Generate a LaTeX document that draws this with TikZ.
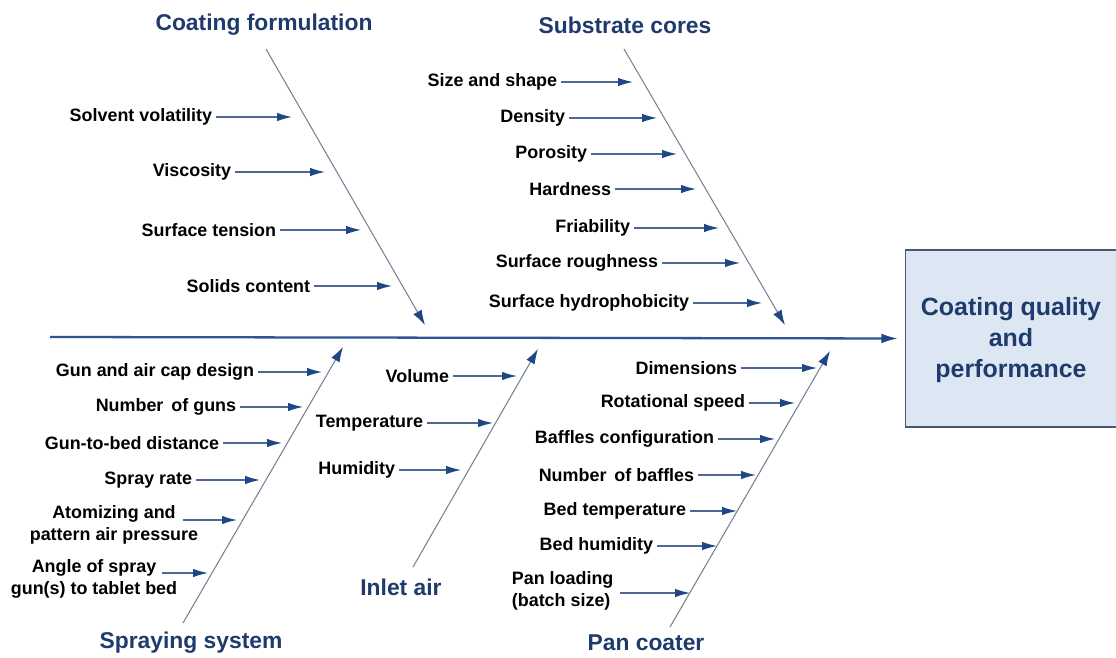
\documentclass[tikz,border=0pt]{standalone}
\usepackage{fontspec}
\setmainfont{Liberation Sans}
\usetikzlibrary{arrows.meta}
\definecolor{ttlblue}{RGB}{31,58,108}
\definecolor{headblue}{RGB}{30,72,132}
\definecolor{causeline}{RGB}{78,104,150}
\definecolor{boneline}{RGB}{118,128,148}
\definecolor{spineblue}{RGB}{46,84,148}
\definecolor{boxfill}{RGB}{221,231,243}
\definecolor{boxdraw}{RGB}{72,86,110}
\begin{document}
\begin{tikzpicture}[x=0.02cm, y=-0.02cm,
  cause/.style={draw=causeline, line width=0.7pt, -{Latex[length=8.5pt, width=4.8pt, color=headblue]}},
  bone/.style={draw=boneline, line width=0.6pt, -{Latex[length=8.5pt, width=5.4pt, color=headblue]}},
  spine/.style={draw=spineblue, line width=1.3pt, -{Latex[length=9.5pt, width=5.6pt, color=headblue]}},
  factor/.style={anchor=east, inner sep=2pt, font=\bfseries\fontsize{10.2}{12.6}\selectfont},
  group/.style={text=ttlblue, font=\bfseries\fontsize{13}{15}\selectfont}]
\useasboundingbox (0,0) rectangle (1116,658);
% effect
\node (quality) [draw=boxdraw, line width=0.7pt, fill=boxfill, anchor=west, minimum width=4.6cm, minimum height=3.54cm] at (905,338.5) {};
\node (qualitytext) [align=center, text=ttlblue, font=\bfseries\fontsize{14.2}{17.6}\selectfont] at (1011,340) {Coating quality\\and\\performance};
\coordinate (spinestart) at (50,337);
\draw [spine, shorten >=4pt] (spinestart) -- (quality.west);
% main bones
\coordinate (cf-top) at (266,49);
\coordinate (cf-tip) at (425,325);
\coordinate (sub-top) at (624,49);
\coordinate (sub-tip) at (785,325);
\coordinate (spr-foot) at (183,623);
\coordinate (spr-tip) at (343,347);
\coordinate (inl-foot) at (413,567);
\coordinate (inl-tip) at (538,349);
\coordinate (pan-foot) at (670,627);
\coordinate (pan-tip) at (830,351);
\draw [bone] (cf-top) -- (cf-tip);
\draw [bone] (sub-top) -- (sub-tip);
\draw [bone] (spr-foot) -- (spr-tip);
\draw [bone] (inl-foot) -- (inl-tip);
\draw [bone] (pan-foot) -- (pan-tip);
\node (cf) [group] at (264,25) {Coating formulation};
\node (sub) [group] at (625,25) {Substrate cores};
\node (spr) [group] at (191,643) {Spraying system};
\node (inl) [group] at (401,587) {Inlet air};
\node (pan) [group] at (646,643) {Pan coater};
% coating formulation
\node (sv) [factor] at (216,117) {Solvent volatility};
\node (visc) [factor] at (235,172) {Viscosity};
\node (st) [factor] at (280,230) {Surface tension};
\node (sc) [factor] at (314,286) {Solids content};
\coordinate (sv-tip) at (292,117);
\coordinate (visc-tip) at (325,172);
\coordinate (st-tip) at (361,230);
\coordinate (sc-tip) at (392,286);
\draw [cause] (sv.east) -- (sv-tip);
\draw [cause] (visc.east) -- (visc-tip);
\draw [cause] (st.east) -- (st-tip);
\draw [cause] (sc.east) -- (sc-tip);
% substrate cores
\node (ss) [factor] at (561,82) {Size and shape};
\node (dens) [factor] at (569,118) {Density};
\node (poro) [factor] at (591,154) {Porosity};
\node (hard) [factor] at (615,189) {Hardness};
\node (fria) [factor] at (634,228) {Friability};
\node (rough) [factor] at (662,263) {Surface roughness};
\node (hydro) [factor] at (693,303) {Surface hydrophobicity};
\coordinate (ss-tip) at (633,82);
\coordinate (dens-tip) at (657,118);
\coordinate (poro-tip) at (677,154);
\coordinate (hard-tip) at (696,189);
\coordinate (fria-tip) at (719,228);
\coordinate (rough-tip) at (740,263);
\coordinate (hydro-tip) at (762,303);
\draw [cause] (ss.east) -- (ss-tip);
\draw [cause] (dens.east) -- (dens-tip);
\draw [cause] (poro.east) -- (poro-tip);
\draw [cause] (hard.east) -- (hard-tip);
\draw [cause] (fria.east) -- (fria-tip);
\draw [cause] (rough.east) -- (rough-tip);
\draw [cause] (hydro.east) -- (hydro-tip);
% spraying system
\node (gacd) [factor] at (258,372) {Gun and air cap design};
\node (nog) [factor] at (240,407) {Number\, of guns};
\node (gbd) [factor] at (223,443) {Gun-to-bed distance};
\node (sr) [factor] at (196,480) {Spray rate};
\node (atom) [factor, align=center] at (202,524.5) {Atomizing and\\pattern air pressure};
\node (angle) [factor, align=center] at (181,579) {Angle of spray\\gun(s) to tablet bed};
\coordinate (gacd-tip) at (322,372);
\coordinate (nog-tip) at (303,407);
\coordinate (gbd-tip) at (282,443);
\coordinate (sr-tip) at (260,480);
\coordinate (atom-from) at (183,520);
\coordinate (atom-tip) at (237,520);
\coordinate (angle-from) at (162,573);
\coordinate (angle-tip) at (208,573);
\draw [cause] (gacd.east) -- (gacd-tip);
\draw [cause] (nog.east) -- (nog-tip);
\draw [cause] (gbd.east) -- (gbd-tip);
\draw [cause] (sr.east) -- (sr-tip);
\draw [cause] (atom-from) -- (atom-tip);
\draw [cause] (angle-from) -- (angle-tip);
% inlet air
\node (vol) [factor] at (453,376) {Volume};
\node (temp) [factor] at (427,423) {Temperature};
\node (humi) [factor] at (399,470) {Humidity};
\coordinate (vol-tip) at (517,376);
\coordinate (temp-tip) at (493,423);
\coordinate (humi-tip) at (461,470);
\draw [cause] (vol.east) -- (vol-tip);
\draw [cause] (temp.east) -- (temp-tip);
\draw [cause] (humi.east) -- (humi-tip);
% pan coater
\node (dim) [factor] at (741,368) {Dimensions};
\node (rot) [factor] at (749,403) {Rotational speed};
\node (bcfg) [factor] at (718,439) {Baffles configuration};
\node (nob) [factor] at (698,475) {Number\, of baffles};
\node (btemp) [factor] at (690,511) {Bed temperature};
\node (bhum) [factor] at (657,546) {Bed humidity};
\node (load) [factor, anchor=west, align=left] at (508,590.5) {Pan loading\\(batch size)};
\coordinate (dim-tip) at (817,368);
\coordinate (rot-tip) at (795,403);
\coordinate (bcfg-tip) at (775,439);
\coordinate (nob-tip) at (756,475);
\coordinate (btemp-tip) at (737,511);
\coordinate (bhum-tip) at (717,546);
\coordinate (load-from) at (620,593);
\coordinate (load-tip) at (690,593);
\draw [cause] (dim.east) -- (dim-tip);
\draw [cause] (rot.east) -- (rot-tip);
\draw [cause] (bcfg.east) -- (bcfg-tip);
\draw [cause] (nob.east) -- (nob-tip);
\draw [cause] (btemp.east) -- (btemp-tip);
\draw [cause] (bhum.east) -- (bhum-tip);
\draw [cause] (load-from) -- (load-tip);
\end{tikzpicture}
\end{document}
